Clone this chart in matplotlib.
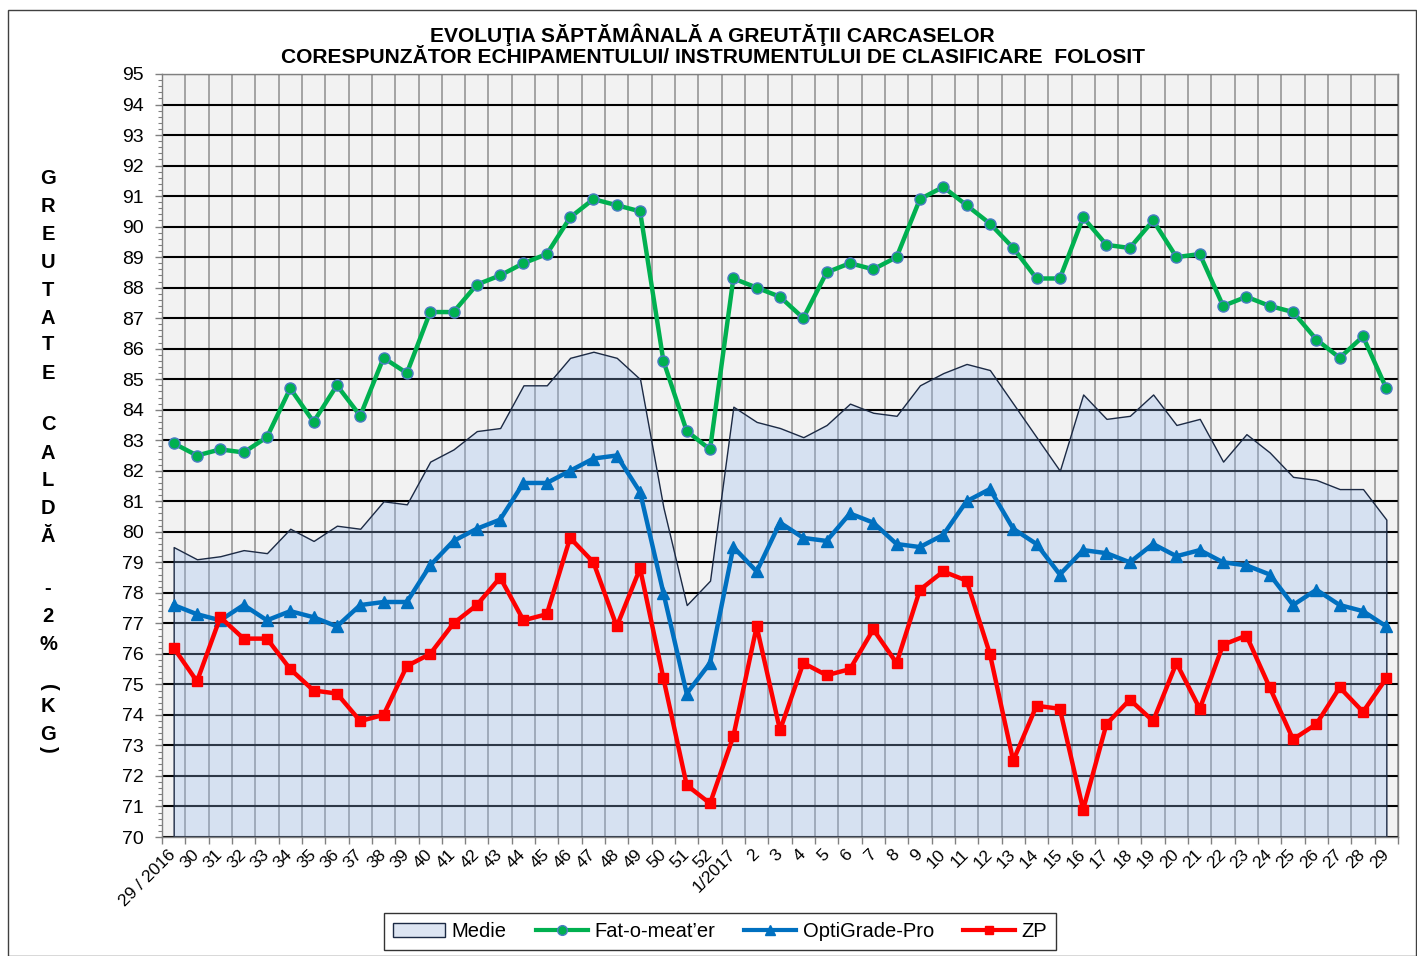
import matplotlib
matplotlib.use("Agg")
import matplotlib.pyplot as plt
from matplotlib.patches import Patch, Rectangle
from matplotlib.lines import Line2D
from matplotlib.ticker import MultipleLocator, FixedLocator
import numpy as np

plt.rcParams['font.family'] = ['Liberation Sans', 'DejaVu Sans']

weeks = ["29 / 2016"] + [str(w) for w in range(30, 53)] + ["1/2017"] + [str(w) for w in range(2, 30)]

medie = [79.5, 79.1, 79.2, 79.4, 79.3, 80.1, 79.7, 80.2, 80.1, 81.0, 80.9,
         82.3, 82.7, 83.3, 83.4, 84.8, 84.8, 85.7, 85.9, 85.7, 85.0,
         80.8, 77.6, 78.4,
         84.1, 83.6, 83.4, 83.1, 83.5, 84.2, 83.9, 83.8, 84.8, 85.2, 85.5, 85.3,
         84.2, 83.1, 82.0, 84.5, 83.7, 83.8, 84.5, 83.5, 83.7, 82.3, 83.2, 82.6,
         81.8, 81.7, 81.4, 81.4, 80.4]

fat_o_meater = [82.9, 82.5, 82.7, 82.6, 83.1, 84.7, 83.6, 84.8, 83.8, 85.7, 85.2,
                87.2, 87.2, 88.1, 88.4, 88.8, 89.1, 90.3, 90.9, 90.7, 90.5,
                85.6, 83.3, 82.7,
                88.3, 88.0, 87.7, 87.0, 88.5, 88.8, 88.6, 89.0, 90.9, 91.3, 90.7, 90.1,
                89.3, 88.3, 88.3, 90.3, 89.4, 89.3, 90.2, 89.0, 89.1, 87.4, 87.7, 87.4,
                87.2, 86.3, 85.7, 86.4, 84.7]

optigrade = [77.6, 77.3, 77.1, 77.6, 77.1, 77.4, 77.2, 76.9, 77.6, 77.7, 77.7,
             78.9, 79.7, 80.1, 80.4, 81.6, 81.6, 82.0, 82.4, 82.5, 81.3,
             78.0, 74.7, 75.7,
             79.5, 78.7, 80.3, 79.8, 79.7, 80.6, 80.3, 79.6, 79.5, 79.9, 81.0, 81.4,
             80.1, 79.6, 78.6, 79.4, 79.3, 79.0, 79.6, 79.2, 79.4, 79.0, 78.9, 78.6,
             77.6, 78.1, 77.6, 77.4, 76.9]

zp = [76.2, 75.1, 77.2, 76.5, 76.5, 75.5, 74.8, 74.7, 73.8, 74.0, 75.6,
      76.0, 77.0, 77.6, 78.5, 77.1, 77.3, 79.8, 79.0, 76.9, 78.8,
      75.2, 71.7, 71.1,
      73.3, 76.9, 73.5, 75.7, 75.3, 75.5, 76.8, 75.7, 78.1, 78.7, 78.4, 76.0,
      72.5, 74.3, 74.2, 70.9, 73.7, 74.5, 73.8, 75.7, 74.2, 76.3, 76.6, 74.9,
      73.2, 73.7, 74.9, 74.1, 75.2]

W, H = 1417, 956
fig = plt.figure(figsize=(W / 100, H / 100), dpi=100)
fig.patch.set_facecolor('white')

left, right, top, bottom = 162, 1398, 74, 837
ax = fig.add_axes([left / W, 1 - bottom / H, (right - left) / W, (bottom - top) / H])
ax.set_facecolor('#F2F2F2')

x = np.arange(len(weeks))

# area (semi-transparent so the grid shows through)
ax.fill_between(x, 70, medie, facecolor=(151 / 255, 186 / 255, 239 / 255, 0.30),
                edgecolor='#1C2A44', linewidth=1.0, zorder=1)

ax.plot(x, fat_o_meater, color='#00B050', lw=3.2, marker='o', ms=8,
        mfc='#00B050', mec='#4A7CC4', mew=1.0, zorder=4)
ax.plot(x, optigrade, color='#0070C0', lw=3.2, marker='^', ms=8,
        mfc='#0070C0', mec='#0070C0', zorder=4)
ax.plot(x, zp, color='#FF0000', lw=3.2, marker='s', ms=7.5,
        mfc='#FF0000', mec='#FF0000', zorder=4)

ax.set_xlim(-0.5, len(weeks) - 0.5)
ax.set_ylim(70, 95)

# y axis
ax.yaxis.set_major_locator(MultipleLocator(1))
ax.yaxis.set_minor_locator(MultipleLocator(0.2))
ax.tick_params(axis='y', which='major', length=5, width=1, color='#808080',
               labelsize=14, pad=8)
ax.tick_params(axis='y', which='minor', length=3, width=0.8, color='#808080')
ax.grid(axis='y', which='major', color='black', lw=1.5)

# x axis: labels at centers, ticks/grid at boundaries
ax.set_xticks(x)
ax.set_xticklabels(weeks, rotation=45, ha='right', va='center', rotation_mode='anchor')
ax.xaxis.set_minor_locator(FixedLocator(np.arange(-0.5, len(weeks), 1.0)))
ax.tick_params(axis='x', which='major', length=0, labelsize=12.5, pad=11)
ax.tick_params(axis='x', which='minor', length=5, width=1, color='#808080')
ax.grid(axis='x', which='minor', color='#969696', lw=1.2)
ax.set_axisbelow(True)

for s in ax.spines.values():
    s.set_color('#808080')
    s.set_linewidth(1)

# title
fig.text(0.503, 1 - 45 / H,
         "EVOLUŢIA SĂPTĂMÂNALĂ A GREUTĂŢII CARCASELOR\n"
         "CORESPUNZĂTOR ECHIPAMENTULUI/ INSTRUMENTULUI DE CLASIFICARE  FOLOSIT",
         ha='center', va='center', fontsize=15.1, fontweight='bold', linespacing=1.15)

# stacked y label
chars = ['G', 'R', 'E', 'U', 'T', 'A', 'T', 'E', 'C', 'A', 'L', 'D', 'Ă',
         '-', '2', '%', '(', 'K', 'G', ')']
ys = [179, 207, 234, 262, 290, 318, 345, 373, 425, 453, 480, 508, 536,
      589, 617, 645, 687, 706, 734, 749]
for c, yy in zip(chars, ys):
    rot = -90 if c in '()' else 0
    fig.text(48 / W, 1 - yy / H, c, ha='center', va='center', fontsize=14.5,
             fontweight='bold', rotation=rot)

# legend
handles = [
    Patch(facecolor='#DDE5F2', edgecolor='#1C2A44', lw=1.0),
    Line2D([], [], color='#00B050', lw=3, marker='o', ms=7, mfc='#00B050', mec='#4A7CC4'),
    Line2D([], [], color='#0070C0', lw=3, marker='^', ms=7, mfc='#0070C0'),
    Line2D([], [], color='#FF0000', lw=3, marker='s', ms=6, mfc='#FF0000'),
]
labels = ['Medie', 'Fat-o-meat\u2019er', 'OptiGrade-Pro', 'ZP']
leg = fig.legend(handles, labels, loc='center', bbox_to_anchor=(720 / W, 1 - 931.5 / H),
                 ncol=4, fontsize=14.5, frameon=True, fancybox=False, edgecolor='black',
                 handlelength=2.6, handletextpad=0.3, columnspacing=1.45,
                 borderpad=0.45)
leg.get_frame().set_linewidth(1.0)

# outer border
fig.patches.append(Rectangle((8 / W, 0), (W - 9) / W, (H - 10) / H, transform=fig.transFigure,
                             fill=False, edgecolor='#404040', lw=1.0))

fig.savefig('out.png', dpi=100)
